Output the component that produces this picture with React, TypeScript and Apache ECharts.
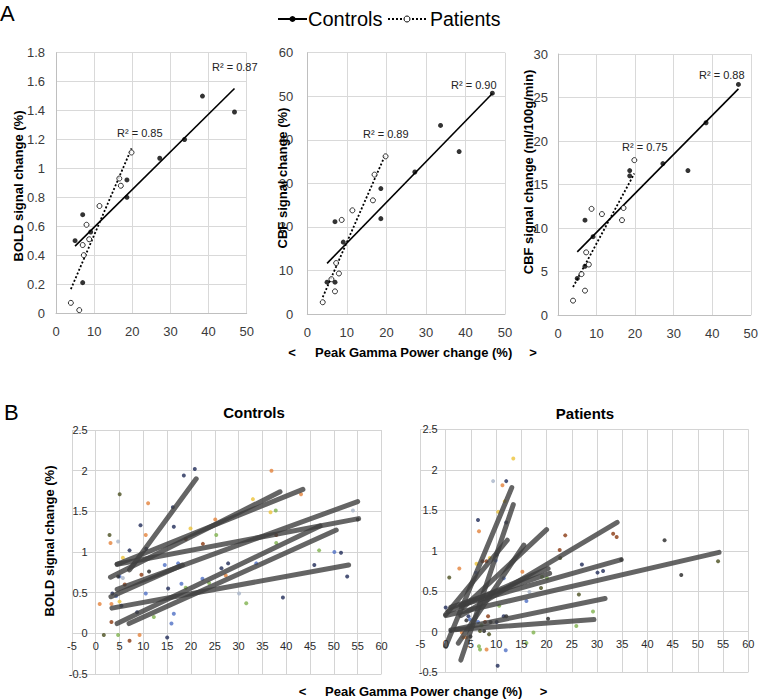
import React, { useEffect, useRef } from "react";
import * as echarts from "echarts";

const FONT = "'Liberation Sans', Arial, sans-serif";

// ---------- Panel A data ----------
const gammaControls = [5.0, 7.0, 7.0, 9.1, 18.6, 18.6, 27.2, 33.7, 38.4, 46.8];
const boldControls = [0.5, 0.68, 0.21, 0.56, 0.92, 0.8, 1.07, 1.2, 1.5, 1.39];
const cbfPctControls = [7.3, 21.2, 7.3, 16.5, 28.8, 21.9, 32.6, 43.3, 37.3, 50.7];
const cbfAbsControls = [4.2, 10.9, 5.6, 9.0, 16.6, 16.0, 17.4, 16.6, 22.1, 26.5];

const gammaPatients = [3.9, 6.1, 7.0, 7.3, 8.0, 8.7, 11.4, 16.6, 17.0, 19.8];
const boldPatients = [0.07, 0.02, 0.47, 0.4, 0.61, 0.51, 0.74, 0.93, 0.88, 1.11];
const cbfPctPatients = [2.7, 8.0, 5.2, 11.7, 9.3, 21.6, 23.8, 26.1, 32.0, 36.2];
const cbfAbsPatients = [1.65, 4.7, 2.8, 7.2, 5.8, 12.2, 11.6, 10.9, 12.3, 17.8];

const r2Labels = ["R² = 0.87", "R² = 0.85", "R² = 0.90", "R² = 0.89", "R² = 0.88", "R² = 0.75"];
const yNamesA = ["BOLD signal change (%)", "CBF signal change (%)", "CBF signal change (ml/100g/min)"];
const yMaxA = [1.8, 60, 30];
const yIntervalA = [0.2, 10, 5];

// ---------- Panel B data ----------
const xRangeB = [-5, 60];
const yRangeB = [-0.5, 2.5];
const xTicksB = [-5, 0, 5, 10, 15, 20, 25, 30, 35, 40, 45, 50, 55, 60];
const yTicksB = [-0.5, 0, 0.5, 1, 1.5, 2, 2.5];

// per-subject linear fits: [x1, y1, x2, y2]
const controlFitLines = [
  [7.1, 0.78, 21.1, 1.9],
  [3.1, 0.69, 38.7, 1.74],
  [4.5, 0.85, 43.5, 1.77],
  [4.5, 0.85, 55.2, 1.41],
  [3.2, 0.45, 18.2, 0.84],
  [4.5, 0.54, 55.0, 1.62],
  [3.4, 0.31, 53.1, 0.84],
  [4.5, 0.12, 47.1, 1.32],
  [7.0, 0.12, 50.5, 1.27],
];
const patientFitLines = [
  [0, 0.2, 54.2, 0.98],
  [3, 0.33, 34.8, 0.89],
  [3, 0.2, 34.0, 1.35],
  [2, 0.03, 31.6, 0.41],
  [1, 0.02, 29.4, 0.15],
  [3.5, 0.3, 20.0, 1.26],
  [0.5, 0.25, 20.3, 0.78],
  [1, 0.3, 20.6, 0.72],
  [0, 0.21, 12.2, 1.13],
  [2.5, -0.14, 15.5, 1.07],
  [0, -0.18, 13.1, 1.78],
  [3, -0.35, 13.4, 1.57],
];

const controlDotsOrange = [[0.84, 0.36], [3.3, 0.36], [3.1, 1.11], [11.0, 1.6], [10.5, 1.21], [9.2, -0.02], [25.1, 1.4], [36.9, 2.0], [43.1, 1.71], [27.3, 0.71]];
const controlDotsNavy = [[7.1, 1.02], [9.4, 1.33], [16.2, 1.55], [16.4, 1.31], [18.5, 1.94], [20.8, 2.02], [27.8, 0.86], [26.4, 0.8], [15.2, 0.55], [8.7, 0.26], [15.0, -0.05], [3.5, 0.49], [5.4, 0.34], [45.9, 0.84], [51.5, 0.99], [52.8, 0.7], [39.3, 0.44], [10.6, 1.04]];
const controlDotsBlue = [[50.1, 1.0], [33.7, 0.86], [22.4, 0.67], [18.0, 0.61], [17.3, 0.86], [17.6, 0.82], [14.5, 0.84], [10.5, 0.49], [16.4, 0.24], [15.9, 0.12], [4.3, 0.46], [5.0, 0.7]];
const controlDotsLight = [[4.7, 1.13], [30.1, 0.49], [54.0, 1.51], [5.7, 0.68]];
const controlDotsYellow = [[5.7, 0.93], [19.9, 1.29], [33.0, 1.65], [36.7, 1.49], [5.0, 0.39]];
const controlDotsGreen = [[25.3, 1.21], [37.8, 1.51], [37.9, 1.11], [46.9, 1.02], [31.6, 0.37], [23.8, 0.62], [18.9, 0.56], [12.2, 0.2], [4.7, -0.02]];
const controlDotsBrown = [[18.9, 1.16], [22.5, 1.1], [37.9, 1.21], [3.3, 0.14], [7.1, -0.09], [9.6, 0.72], [6.1, 0.6]];
const controlDotsOlive = [[5.03, 1.71], [2.9, 1.21], [1.7, -0.02]];
const controlDotsDark = [[55.0, 1.4], [11.2, 0.76], [4.7, 0.7]];

const patientDotsOrange = [[11.25, 1.81], [6.6, 1.24], [2.7, 0.78], [15.2, 0.74], [3.2, -0.01], [3.5, -0.07], [4.1, -0.07], [8.1, -0.22]];
const patientDotsNavy = [[12.0, 1.86], [6.4, 1.38], [12.0, 1.35], [27.0, 0.83], [10.1, 0.95], [0, 0.3], [4.5, 0.19], [11.5, 0.19], [10.1, 0.12], [1.0, 0.01], [10.3, -0.42], [30.1, 0.73], [31.2, 0.75]];
const patientDotsBlue = [[6.0, 0.73], [9.9, 0.88], [11.5, 0.66], [16.0, 0.38], [4.8, 0.15], [6.4, 0.12], [11.9, -0.23]];
const patientDotsLight = [[9.4, 1.86], [16.6, 0.49]];
const patientDotsYellow = [[13.4, 2.14], [11.7, 1.61], [10.4, 1.48], [6.1, 0.84], [8.75, 0.91]];
const patientDotsGreen = [[10.6, 0.32], [20.1, 0.66], [7.1, 0.08], [17.4, -0.01], [6.8, -0.22], [6.6, -0.18], [16.0, -0.14], [25.9, 0.07], [29.2, 0.25], [19.1, 0.68]];
const patientDotsBrown = [[23.7, 1.19], [22.6, 1.01], [7.3, 0.87], [8.1, 0.87], [8.4, 0.19], [7.8, 0.12], [33.2, 1.21], [33.9, 1.17]];
const patientDotsOlive = [[22.7, 0.91], [0.7, 0.67], [18.9, 0.54], [26.4, 0.46], [6.8, 0.01], [8.6, -0.03], [54.0, 0.87]];
const patientDotsDark = [[12.0, 0.19], [8.9, 0.12], [4.1, 0.14], [4.9, -0.06], [7.6, 0.01], [20.3, 0.16], [43.4, 1.13], [46.7, 0.7], [34.8, 0.89]];

const dotColors: Record<string, string> = {
  orange: "#e4823b",
  navy: "#1f2a58",
  blue: "#4f6fc4",
  light: "#a8b4c8",
  yellow: "#ecc33a",
  green: "#7fb24e",
  brown: "#8a3a12",
  olive: "#4a4f1f",
  dark: "#262626",
};

const controlDotGroups: [string, number[][]][] = [
  ["orange", controlDotsOrange], ["navy", controlDotsNavy], ["blue", controlDotsBlue],
  ["light", controlDotsLight], ["yellow", controlDotsYellow], ["green", controlDotsGreen],
  ["brown", controlDotsBrown], ["olive", controlDotsOlive], ["dark", controlDotsDark],
];
const patientDotGroups: [string, number[][]][] = [
  ["orange", patientDotsOrange], ["navy", patientDotsNavy], ["blue", patientDotsBlue],
  ["light", patientDotsLight], ["yellow", patientDotsYellow], ["green", patientDotsGreen],
  ["brown", patientDotsBrown], ["olive", patientDotsOlive], ["dark", patientDotsDark],
];

function zip(xs: number[], ys: number[]) {
  return xs.map((x, i) => [x, ys[i]]);
}

function linFit(xs: number[], ys: number[]) {
  const n = xs.length;
  const mx = xs.reduce((a, b) => a + b, 0) / n;
  const my = ys.reduce((a, b) => a + b, 0) / n;
  let sxy = 0;
  let sxx = 0;
  for (let i = 0; i < n; i++) {
    sxy += (xs[i] - mx) * (ys[i] - my);
    sxx += (xs[i] - mx) * (xs[i] - mx);
  }
  const b = sxy / sxx;
  const a = my - b * mx;
  const x0 = Math.min(...xs);
  const x1 = Math.max(...xs);
  return [[x0, a + b * x0], [x1, a + b * x1]];
}

const txt = (x: number, y: number, text: string, o: any = {}) => ({
  type: "text", x, y, rotation: o.rotation || 0, z: 10, silent: true,
  style: {
    text, fill: o.fill || "#000", fontSize: o.fontSize || 13, fontWeight: o.fontWeight || "normal",
    fontFamily: FONT, align: o.align || "left", verticalAlign: o.verticalAlign || "middle",
  },
});

function buildGraphic(): any[] {
  return [
    txt(0, 13, "A", { fontSize: 22 }),
    txt(4, 412, "B", { fontSize: 22 }),
    // legend
    { type: "line", shape: { x1: 278, y1: 19, x2: 307, y2: 19 }, style: { stroke: "#000", lineWidth: 2 } },
    { type: "circle", shape: { cx: 292.5, cy: 19, r: 3 }, style: { fill: "#000" } },
    txt(308, 19, "Controls", { fontSize: 20 }),
    { type: "line", shape: { x1: 388, y1: 19, x2: 428, y2: 19 }, style: { stroke: "#000", lineWidth: 2, lineDash: [2, 2] } },
    { type: "circle", shape: { cx: 407, cy: 19, r: 3 }, style: { fill: "#fff", stroke: "#000", lineWidth: 1 } },
    txt(430, 19, "Patients", { fontSize: 19.5 }),
    // y axis names A
    txt(18, 186, yNamesA[0], { rotation: Math.PI / 2, align: "center", fontWeight: "bold", fontSize: 13 }),
    txt(282, 178, yNamesA[1], { rotation: Math.PI / 2, align: "center", fontWeight: "bold", fontSize: 13 }),
    txt(528, 172, yNamesA[2], { rotation: Math.PI / 2, align: "center", fontWeight: "bold", fontSize: 13 }),
    // R² labels
    txt(212, 67, r2Labels[0], { fontSize: 11, fill: "#222" }),
    txt(117, 133, r2Labels[1], { fontSize: 11, fill: "#222" }),
    txt(451, 85, r2Labels[2], { fontSize: 11, fill: "#222" }),
    txt(363, 134, r2Labels[3], { fontSize: 11, fill: "#222" }),
    txt(699, 75, r2Labels[4], { fontSize: 11, fill: "#222" }),
    txt(622, 147, r2Labels[5], { fontSize: 11, fill: "#222" }),
    // x axis title A
    txt(292, 352, "<", { align: "center", fontWeight: "bold", fontSize: 13 }),
    txt(315, 352, "Peak Gamma Power change (%)", { fontWeight: "bold", fontSize: 13 }),
    txt(533, 352, ">", { align: "center", fontWeight: "bold", fontSize: 13 }),
    // B titles
    txt(254, 412, "Controls", { align: "center", fontWeight: "bold", fontSize: 15 }),
    txt(585, 413, "Patients", { align: "center", fontWeight: "bold", fontSize: 15 }),
    txt(49, 541, "BOLD signal change (%)", { rotation: Math.PI / 2, align: "center", fontWeight: "bold", fontSize: 13 }),
    // x axis title B
    txt(302.5, 691, "<", { align: "center", fontWeight: "bold", fontSize: 13 }),
    txt(325, 691, "Peak Gamma Power change (%)", { fontWeight: "bold", fontSize: 13 }),
    txt(543.5, 691, ">", { align: "center", fontWeight: "bold", fontSize: 13 }),
  ];
}

function buildOption() {
  const gridsA = [
    { left: 56, top: 52.7, width: 190.7, height: 260.3 },
    { left: 307.3, top: 52.7, width: 197.7, height: 261.3 },
    { left: 558, top: 54, width: 196.5, height: 261 },
  ];
  const gridsB = [
    { left: 71.9, top: 430, width: 309.6, height: 244 },
    { left: 420.5, top: 429.3, width: 327.8, height: 242.9 },
  ];
  const yLabelMarginA = [11, 14, 10];

  const grid: any[] = [...gridsA, ...gridsB].map((g) => ({ ...g, containLabel: false }));

  const xAxis: any[] = [];
  const yAxis: any[] = [];
  for (let i = 0; i < 3; i++) {
    xAxis.push({
      type: "value", gridIndex: i, min: 0, max: 50, interval: 10,
      axisLine: { show: true, lineStyle: { color: "#bfbfbf" } },
      axisTick: { show: false },
      splitLine: { show: true, lineStyle: { color: "#d9d9d9", width: 1 } },
      axisLabel: { fontSize: 13, color: "#3a3a3a", margin: 12, fontFamily: FONT, showMinLabel: true, showMaxLabel: true },
    });
    yAxis.push({
      type: "value", gridIndex: i, min: 0, max: yMaxA[i], interval: yIntervalA[i],
      axisLine: { show: true, lineStyle: { color: "#bfbfbf" } },
      axisTick: { show: false },
      splitLine: { show: true, lineStyle: { color: "#d9d9d9", width: 1 } },
      axisLabel: { fontSize: 13, color: "#3a3a3a", margin: yLabelMarginA[i], fontFamily: FONT, showMinLabel: true, showMaxLabel: true },
    });
  }
  for (let j = 0; j < 2; j++) {
    const gi = 3 + j;
    xAxis.push({
      type: "value", gridIndex: gi, min: xRangeB[0], max: xRangeB[1], interval: 5,
      axisLine: { show: false },
      axisTick: { show: false },
      splitLine: { show: true, lineStyle: { color: "#d4d4d4", width: 1 } },
      axisLabel: { show: false },
    });
    yAxis.push({
      type: "value", gridIndex: gi, min: yRangeB[0], max: yRangeB[1], interval: 0.5,
      axisLine: { show: false },
      axisTick: { show: false },
      splitLine: { show: true, lineStyle: { color: "#d4d4d4", width: 1 } },
      axisLabel: { show: false },
    });
  }

  const series: any[] = [];
  const ctrlY = [boldControls, cbfPctControls, cbfAbsControls];
  const patY = [boldPatients, cbfPctPatients, cbfAbsPatients];
  for (let i = 0; i < 3; i++) {
    series.push({
      type: "line", xAxisIndex: i, yAxisIndex: i, data: linFit(gammaControls, ctrlY[i]),
      showSymbol: false, symbol: "none", z: 3,
      lineStyle: { color: "#000", width: 1.6 },
    });
    series.push({
      type: "line", xAxisIndex: i, yAxisIndex: i, data: linFit(gammaPatients, patY[i]),
      showSymbol: false, symbol: "none", z: 3,
      lineStyle: { color: "#000", width: 1.8, type: [2, 2] },
    });
    series.push({
      type: "scatter", xAxisIndex: i, yAxisIndex: i, data: zip(gammaControls, ctrlY[i]),
      symbolSize: 5, z: 4, itemStyle: { color: "#000" },
    });
    series.push({
      type: "scatter", xAxisIndex: i, yAxisIndex: i, data: zip(gammaPatients, patY[i]),
      symbolSize: 5, z: 4, itemStyle: { color: "#fff", borderColor: "#000", borderWidth: 1 },
    });
  }

  const groupsB = [controlDotGroups, patientDotGroups];
  const linesB = [controlFitLines, patientFitLines];
  for (let j = 0; j < 2; j++) {
    const ai = 3 + j;
    groupsB[j].forEach(([c, pts]) => {
      series.push({
        type: "scatter", xAxisIndex: ai, yAxisIndex: ai, data: pts,
        symbolSize: 4, z: 2, itemStyle: { color: dotColors[c] },
      });
    });
    linesB[j].forEach((l) => {
      series.push({
        type: "line", xAxisIndex: ai, yAxisIndex: ai,
        data: [[l[0], l[1]], [l[2], l[3]]],
        showSymbol: false, symbol: "none", z: 3,
        lineStyle: { color: "rgba(62,62,62,0.8)", width: 5, cap: "round" },
      });
    });
  }

  return {
    animation: false,
    backgroundColor: "#fff",
    textStyle: { fontFamily: FONT },
    grid,
    xAxis,
    yAxis,
    series,
    graphic: buildGraphic(),
  };
}

// Panel B axes cross at zero: their tick labels are placed at the zero lines,
// using the chart's own coordinate conversion.
function buildCrossingTickLabels(chart: echarts.ECharts): any[] {
  const out: any[] = [];
  for (let j = 0; j < 2; j++) {
    const ai = 3 + j;
    const finder = { xAxisIndex: ai, yAxisIndex: ai };
    xTicksB.forEach((v) => {
      const p = chart.convertToPixel(finder as any, [v, 0]) as number[];
      out.push(txt(p[0], p[1] + 7, String(v), { align: "center", verticalAlign: "top", fontSize: 11, fill: "#2a2a2a" }));
    });
    yTicksB.forEach((v) => {
      const p = chart.convertToPixel(finder as any, [0, v]) as number[];
      out.push(txt(p[0] - 8, p[1], String(v), { align: "right", verticalAlign: "middle", fontSize: 11, fill: "#2a2a2a" }));
    });
  }
  return out;
}

export default function App() {
  const ref = useRef<HTMLDivElement>(null);
  useEffect(() => {
    if (!ref.current) return;
    const chart = echarts.init(ref.current, undefined, { renderer: "svg" });
    chart.setOption(buildOption() as any);
    const graphic = buildGraphic().concat(buildCrossingTickLabels(chart));
    chart.setOption({ graphic } as any);
    return () => chart.dispose();
  }, []);
  return (
    <div
      ref={ref}
      style={{ position: "fixed", left: 0, top: 0, width: 761, height: 699, background: "#fff" }}
    />
  );
}
